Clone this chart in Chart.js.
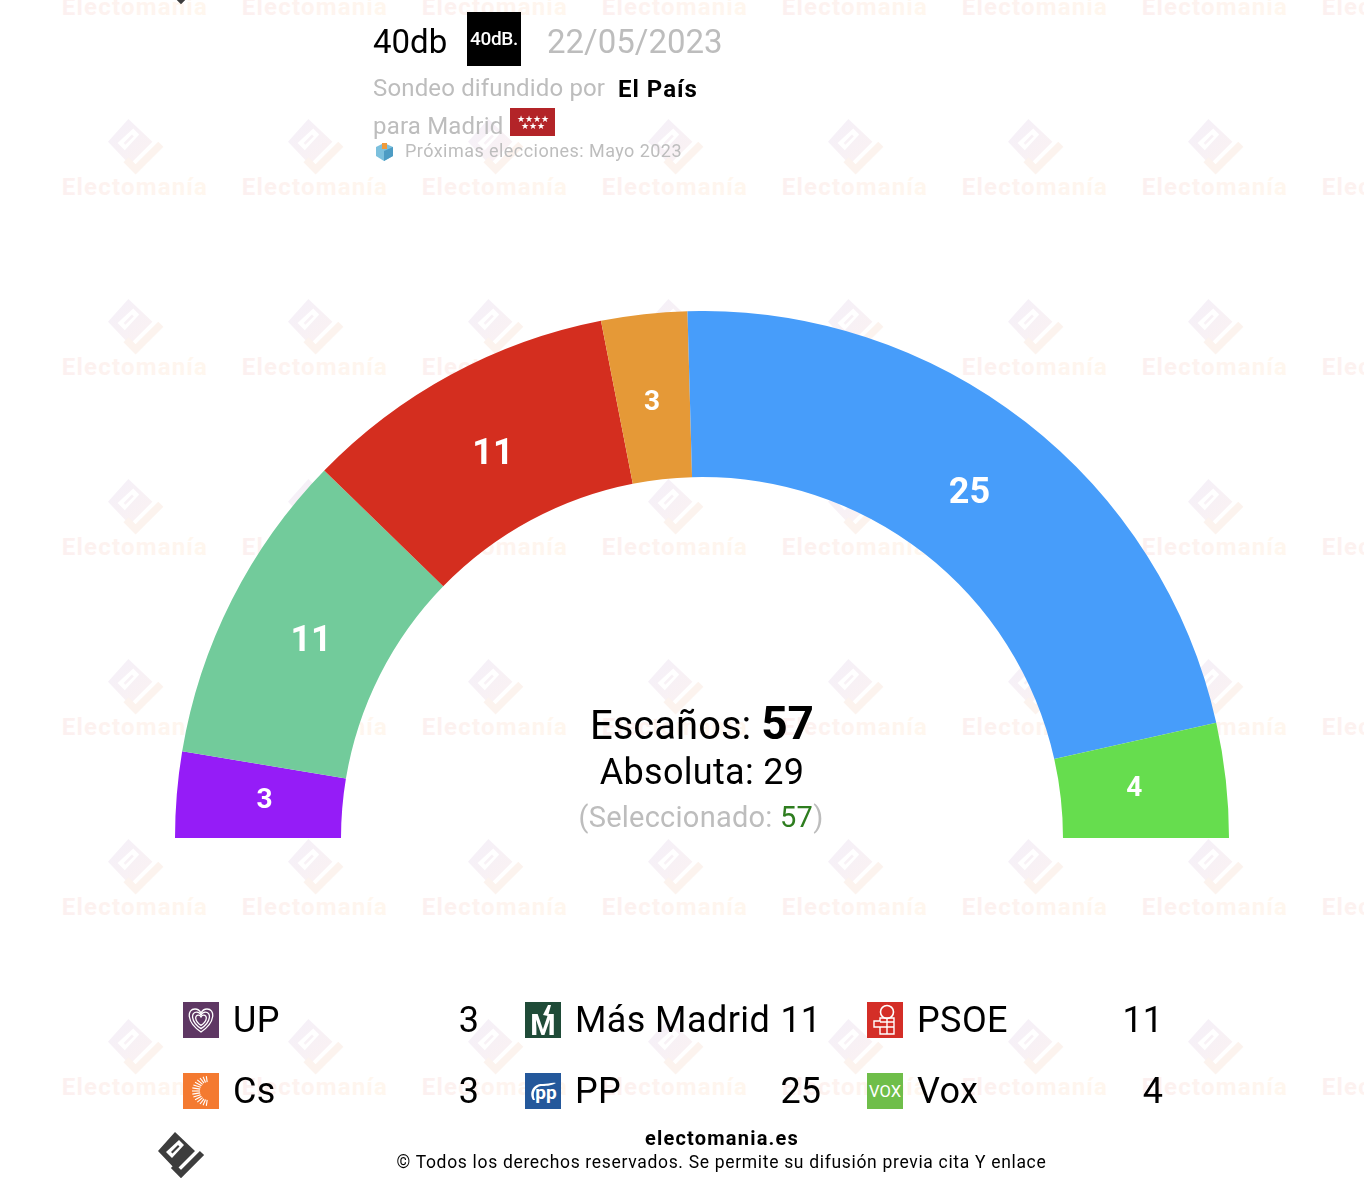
<!DOCTYPE html>
<html>
<head>
<meta charset="utf-8">
<script src="https://cdn.jsdelivr.net/npm/chart.js@4"></script>
<style>
html, body { margin: 0; padding: 0; background: #fff; overflow: hidden; }
svg, canvas { position: absolute; left: 0; top: 0; }
svg text { font-family: Roboto, sans-serif; }
#chartBox { position: absolute; left: 175px; top: 311px; width: 1054px; height: 527px; }
</style>
</head>
<body>
<svg id="back" width="1364" height="1178"></svg>
<div id="chartBox"><canvas id="myChart" width="1054" height="527"></canvas></div>
<svg id="front" width="1364" height="1178"></svg>
<script>
const parties = ['UP', 'Más Madrid', 'PSOE', 'Cs', 'PP', 'Vox'];
const seats = [3, 11, 11, 3, 25, 4];
const colors = ['#951cf7', '#72cb9b', '#d42e1f', '#e59937', '#479dfa', '#66dd4e'];
const iconColors = ['#5e3763', '#1f4b38', '#d42e27', '#f47a30', '#24589b', '#6fbe4a'];
const total = 57;
const majority = 29;
const selected = 57;

// same logo for watermark and footer, drawn in a 45x45 box
function logo(x, y, scale, fill, stroke) {
    return `<g transform="translate(${x} ${y}) scale(${scale})">
        <path fill-rule="evenodd" fill="${fill}" d="M17 0 L37 19 L18 38 L0 19 Z M8 20 L21 8 L26 13 L14 26 Z"/>
        <path fill="${fill}" d="M13 20 L20 13 L21.5 14.5 L14.5 21.5 Z" />
        <polyline points="44,21 23,42 15,34" fill="none" stroke="${stroke}" stroke-width="6"/>
    </g>`;
}

// watermark tiles
let back = `<defs>
    <linearGradient id="wmLogo" x1="0" y1="0" x2="1" y2="1"><stop offset="0" stop-color="#f4f0f9"/><stop offset="1" stop-color="#fbf2f2"/></linearGradient>
    <linearGradient id="wmText" x1="0" y1="0" x2="1" y2="0"><stop offset="0" stop-color="#fcf0f0"/><stop offset="1" stop-color="#fff7ee"/></linearGradient>
</defs>`;
for (let row = -1; row < 7; row++) {
    for (let col = 0; col < 8; col++) {
        const x = 135 + col * 180;
        const y = 15 + row * 180;
        back += logo(x - 27, y - 76, 1.2, 'url(#wmLogo)', '#fcf3ee');
        back += `<text x="${x}" y="${y}" text-anchor="middle" font-size="24" font-weight="700" letter-spacing="1.2" fill="url(#wmText)">Electomanía</text>`;
    }
}
document.getElementById('back').innerHTML = back;

const ctx = document.getElementById('myChart').getContext('2d');

// seat numbers inside the arcs
const arcLabels = {
    id: 'arcLabels',
    afterDatasetsDraw(chart) {
        const c = chart.ctx;
        chart.getDatasetMeta(0).data.forEach((arc, i) => {
            const p = arc.getProps(['x', 'y', 'startAngle', 'endAngle', 'innerRadius', 'outerRadius']);
            const mid = (p.startAngle + p.endAngle) / 2;
            const r = (p.innerRadius + p.outerRadius) / 2 - 7;
            const big = seats[i] > 9;
            c.save();
            c.fillStyle = '#fff';
            c.font = '700 ' + (big ? 36 : 28) + 'px Roboto';
            c.textAlign = 'center';
            c.textBaseline = 'middle';
            c.fillText(seats[i], p.x + Math.cos(mid) * r - (big ? 1 : 2), p.y + Math.sin(mid) * r + (big ? 1 : -1));
            c.restore();
        });
    }
};

const myChart = new Chart(ctx, {
    type: 'doughnut',
    data: {
        labels: parties,
        datasets: [{
            data: seats,
            backgroundColor: colors,
            borderWidth: 0
        }]
    },
    options: {
        responsive: false,
        animation: false,
        rotation: -90,
        circumference: 180,
        cutout: '68.5%',
        plugins: {
            legend: { display: false },
            tooltip: { enabled: false }
        }
    },
    plugins: [arcLabels]
});

// small party icons, 36x36
function icon(i) {
    let s = `<rect width="36" height="36" fill="${iconColors[i]}"/>`;
    if (i === 0) {
        const heart = 'M18 30 C3 20 4 7 12 7 C15 7 17 9 18 11 C19 9 21 7 24 7 C32 7 33 20 18 30 Z';
        [1, 0.72, 0.45].forEach(k => {
            s += `<path d="${heart}" transform="translate(18 18) scale(${k}) translate(-18 -18)" fill="none" stroke="#fff" stroke-width="${1.3 / k}"/>`;
        });
    } else if (i === 1) {
        s += `<text x="18" y="33" text-anchor="middle" font-size="29" font-weight="700" fill="#fff">M</text>`;
        s += `<path d="M18 13 L23 3 L26 3 L23 14 Z" fill="#fff"/>`;
    } else if (i === 2) {
        s += `<circle cx="20" cy="10" r="6.5" fill="none" stroke="#fff" stroke-width="1.6"/>`;
        s += `<path d="M13 16 H27 V32 H13 V25 H7 V19 H13 Z M13 20 H27 M13 25 H27 M20 16 V32" fill="none" stroke="#fff" stroke-width="1.4"/>`;
    } else if (i === 3) {
        for (let a = 96; a <= 264; a += 12) {
            const t = a * Math.PI / 180;
            s += `<line x1="${25 + Math.cos(t) * 8}" y1="${18 + Math.sin(t) * 9}" x2="${25 + Math.cos(t) * 16}" y2="${18 + Math.sin(t) * 15}" stroke="#fff" stroke-width="1.1"/>`;
        }
    } else if (i === 4) {
        s += `<text x="21" y="26" text-anchor="middle" font-size="19" font-weight="700" fill="#fff">pp</text>`;
        s += `<path d="M8 27 C3 18 10 10 18 11 C23 11 27 9 31 10 C26 13 20 13 16 13 C10 14 7 20 10 27" fill="#fff"/>`;
    } else {
        s += `<text x="18" y="24" text-anchor="middle" font-size="17" fill="#fff" textLength="32" lengthAdjust="spacingAndGlyphs">VOX</text>`;
    }
    return s;
}

// header, centre text, legend and footer
let front = '';
const grey = '#bdbdbd';
front += `<text x="373" y="53" font-size="33" fill="#000">40db</text>`;
front += `<rect x="467" y="12" width="54" height="54" fill="#000"/>`;
front += `<text x="494" y="45" text-anchor="middle" font-size="19" font-weight="500" letter-spacing="-0.3" fill="#fff">40dB.</text>`;
front += `<text x="547" y="53" font-size="33" fill="${grey}">22/05/2023</text>`;
front += `<text x="373" y="96" font-size="24" letter-spacing="0.15" fill="${grey}">Sondeo difundido por</text>`;
front += `<text x="618" y="97" font-size="24" font-weight="700" letter-spacing="1" fill="#000">El País</text>`;
front += `<text x="373" y="134" font-size="24" letter-spacing="0.2" fill="${grey}">para Madrid</text>`;
front += `<rect x="510" y="108" width="45" height="28" fill="#b32428"/>`;
front += `<text x="532.5" y="122" text-anchor="middle" font-size="9" fill="#fff">★★★★</text>`;
front += `<text x="532.5" y="129" text-anchor="middle" font-size="9" fill="#fff">★★★</text>`;
front += `<path d="M376 147 L384 143 L393 147 L393 156 L384 161 L376 156 Z" fill="#7cc0dd"/>`;
front += `<path d="M384 151 L393 147 L393 156 L384 161 Z" fill="#4d9cc4"/>`;
front += `<rect x="382" y="143" width="5" height="6" fill="#f09a3a"/>`;
front += `<text x="405" y="157" font-size="18" letter-spacing="0.45" fill="${grey}">Próximas elecciones: Mayo 2023</text>`;

front += `<text x="702" y="739" text-anchor="middle" font-size="40" fill="#000">Escaños: <tspan font-size="46" font-weight="700">${total}</tspan></text>`;
front += `<text x="702" y="784" text-anchor="middle" font-size="36" letter-spacing="0.3" fill="#000">Absoluta: ${majority}</text>`;
front += `<text x="701" y="827" text-anchor="middle" font-size="29" letter-spacing="0.25" fill="${grey}">(Seleccionado: <tspan fill="#2e7d1f">${selected}</tspan>)</text>`;

parties.forEach((name, i) => {
    const col = i % 3;
    const row = Math.floor(i / 3);
    const x = 183 + col * 342;
    const y = 1002 + row * 71;
    front += `<g transform="translate(${x} ${y})">${icon(i)}</g>`;
    front += `<text x="${x + 50}" y="${y + 30}" font-size="36" letter-spacing="0.4" fill="#000">${name}</text>`;
    front += `<text x="${x + 296}" y="${y + 30}" text-anchor="end" font-size="36" fill="#000">${seats[i]}</text>`;
});

front += logo(158, 1132, 1, '#3d3d3d', '#3d3d3d');
front += logo(158, -42, 1, '#3d3d3d', '#3d3d3d');
front += `<text x="722" y="1145" text-anchor="middle" font-size="20" font-weight="700" letter-spacing="1.2" fill="#000">electomania.es</text>`;
front += `<text x="721.5" y="1168" text-anchor="middle" font-size="17.5" letter-spacing="0.68" fill="#000">© Todos los derechos reservados. Se permite su difusión previa cita Y enlace</text>`;
document.getElementById('front').innerHTML = front;
</script>
</body>
</html>
